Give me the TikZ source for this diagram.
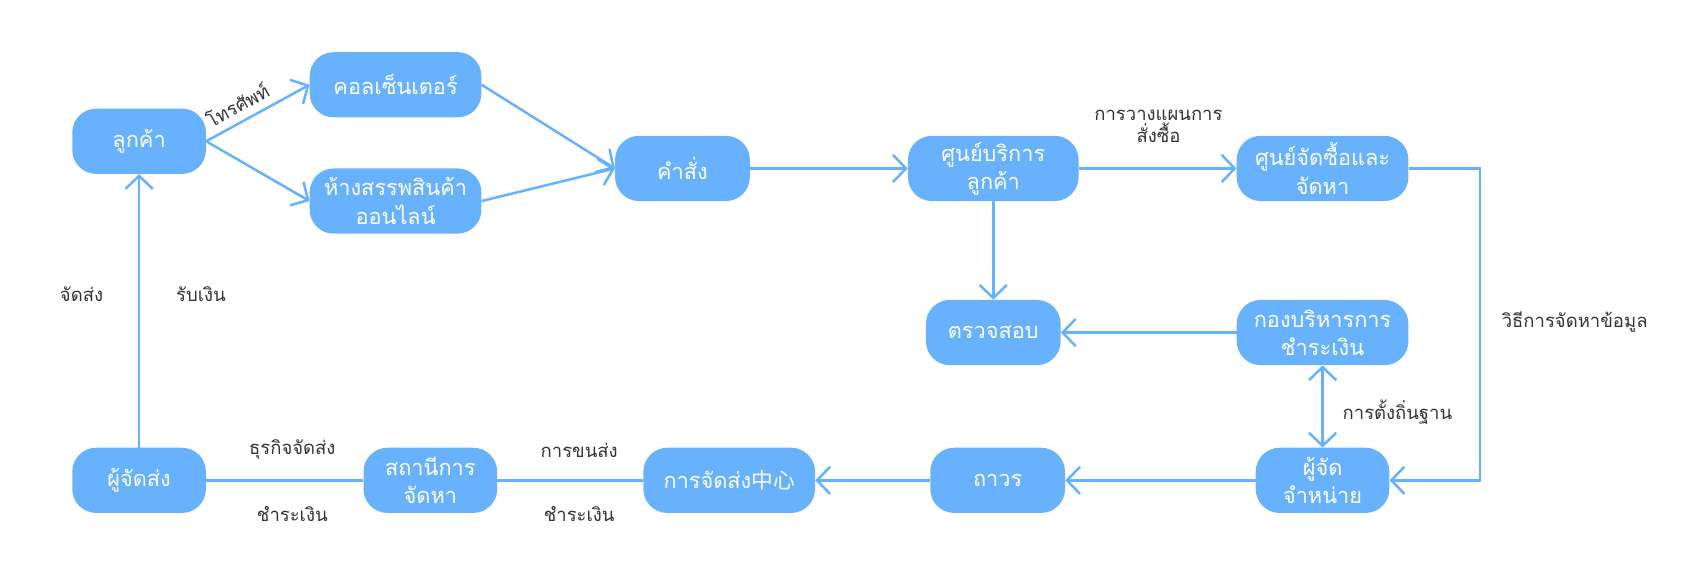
\documentclass[tikz,border=0pt]{standalone}
\usepackage{fontspec}
\setmainfont[Script=Thai]{Loma}
\newfontfamily\cjkfont{Noto Sans CJK SC}
\usetikzlibrary{arrows.meta}

\definecolor{boxblue}{HTML}{68B2FD}
\definecolor{linkblue}{HTML}{66B2FF}
\definecolor{labelgray}{HTML}{333333}

\tikzset{
  box/.style={fill=boxblue, rounded corners=22pt, minimum width=#1, minimum height=60pt,
    text=white, align=center, inner sep=0pt, font=\fontsize{20}{26}\selectfont},
  box/.default=124pt,
  link/.style={draw=linkblue, line width=2.3pt,
    -{Straight Barb[length=12pt,width=25pt,line width=2.3pt]}},
  twoway/.style={draw=linkblue, line width=2.3pt,
    {Straight Barb[length=12pt,width=25pt,line width=2.3pt]}-{Straight Barb[length=12pt,width=25pt,line width=2.3pt]}},
  noarrow/.style={draw=linkblue, line width=2.3pt},
  lbl/.style={text=labelgray, align=center, font=\fontsize{17}{20}\selectfont}
}

\begin{document}
\begin{tikzpicture}[x=1pt, y=-1pt]
        % Fix the page size
        \useasboundingbox (0,0) rectangle (1568,532);

        % Top row
        \node[box=123pt] (cust) at (128,130) {ลูกค้า};
        \node[box=158pt] (call) at (364,78) {คอลเซ็นเตอร์};
        \node[box=158pt] (mall) at (364,185) {ห้างสรรพสินค้า\\ออนไลน์};
        \node[box] (order) at (628,155) {คำสั่ง};
        \node[box=157pt] (svc) at (914,155) {ศูนย์บริการ\\ลูกค้า};
        \node[box=158pt] (buy) at (1217,155) {ศูนย์จัดซื้อและ\\จัดหา};

        % Middle row
        \node[box] (check) at (914,306) {ตรวจสอบ};
        \node[box=158pt] (pay) at (1217,306) {กองบริหารการ\\ชำระเงิน};

        % Bottom row
        \node[box=123pt] (dist) at (1217,442) {ผู้จัด\\จำหน่าย};
        \node[box] (perm) at (918,442) {ถาวร};
        \node[box=158pt] (ship) at (671,442) {การจัดส่ง{\cjkfont 中心}};
        \node[box=123pt] (stn) at (396,442) {สถานีการ\\จัดหา};
        \node[box=123pt] (sender) at (128,442) {ผู้จัดส่ง};

        % Customer to the two channels
        \draw[link] (cust.east) -- node[lbl, sloped, above=7pt, pos=0.38, inner sep=0pt] {โทรศัพท์} (call.west);
        \draw[link] (cust.east) -- (mall.west);

        % Channels to order
        \draw[link] (call.east) -- (order.west);
        \draw[link] (mall.east) -- (order.west);

        % Order onwards
        \draw[link] (order) -- (svc);
        \draw[link] (svc) -- (buy);
        \node[lbl] (planlbl) at (1066,116) {การวางแผนการ\\สั่งซื้อ};
        \draw[link] (svc.south) -- (check.north);

        % Right hand loop down to the distributor
        \coordinate (bend) at (1362,155);
        \draw[link] (buy.east) -- (bend) |- (dist.east);
        \node[lbl] (infolbl) at (1449,296) {วิธีการจัดหาข้อมูล};

        % Payment office
        \draw[link] (pay) -- (check);
        \draw[twoway] (dist.north) -- (pay.south);
        \node[lbl, anchor=west] (settlelbl) at (1232,379) {การตั้งถิ่นฐาน};

        % Bottom row, right to left
        \draw[link] (dist) -- (perm);
        \draw[link] (perm) -- (ship);
        \draw[noarrow] (ship) -- (stn);
        \node[lbl] (haullbl) at (533,414) {การขนส่ง};
        \node[lbl] (pay2lbl) at (533,473) {ชำระเงิน};
        \draw[noarrow] (stn) -- (sender);
        \node[lbl] (bizlbl) at (269,414) {ธุรกิจจัดส่ง};
        \node[lbl] (pay1lbl) at (269,473) {ชำระเงิน};

        % Back up to the customer
        \draw[link] (sender.north) -- (cust.south);
        \node[lbl] (sendlbl) at (75,271) {จัดส่ง};
        \node[lbl] (getlbl) at (185,271) {รับเงิน};
\end{tikzpicture}
\end{document}
